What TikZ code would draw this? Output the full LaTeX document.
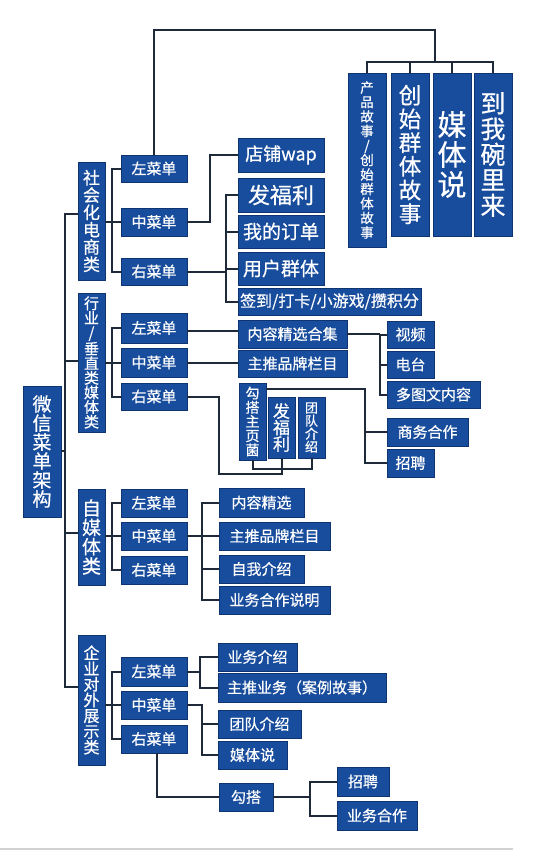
\documentclass[tikz,border=0pt]{standalone}
\usepackage{fontspec}
\setmainfont{Noto Sans CJK SC}[FakeBold=0.6]
\definecolor{boxblue}{HTML}{184C9C}
\definecolor{boxedge}{HTML}{0E3572}
\definecolor{linecol}{HTML}{1E2A3A}
\tikzset{
  bx/.style={fill=boxblue, draw=boxedge, line width=0.6pt, text=white, inner sep=0pt, align=center},
  ln/.style={draw=linecol, line width=2pt},
  fs/.style={font=\fontsize{#1}{#1}\selectfont},
  vt/.style 2 args={font=\fontsize{#1}{#2}\selectfont},
}
\newcommand\mybox[7][]{\node[bx,minimum width={(#5-#3)*1pt},minimum height={(#6-#4)*1pt},#1] (#2) at ({(#3+#5)/2},{(#4+#6)/2}) {#7};}
\begin{document}
\begin{tikzpicture}[x=1pt,y=-1pt]
\fill[white] (0,0) rectangle (550,851);
\useasboundingbox (0,0) rectangle (550,851);
% root and categories
\mybox[vt={19}{19}]{root}{23}{386}{61}{517}{微\\信\\菜\\单\\架\\构}
\mybox[vt={17}{17.3}]{c1}{78}{162}{105}{280}{社\\会\\化\\电\\商\\类}
\mybox[vt={15}{14.6}]{c2}{78}{293}{105}{432}{行\\业\\/\\垂\\直\\类\\媒\\体\\类}
\mybox[vt={19}{19.3}]{c3}{78}{489}{105}{585}{自\\媒\\体\\类}
\mybox[vt={16}{15.7}]{c4}{78}{635}{105}{765}{企\\业\\对\\外\\展\\示\\类}
% top vertical boxes
\mybox[vt={13.5}{14.5}]{t1}{348}{73}{386}{247}{产\\品\\故\\事\\/\\创\\始\\群\\体\\故\\事}
\mybox[vt={22.5}{23.7}]{t2}{391}{73}{429}{236}{创\\始\\群\\体\\故\\事}
\mybox[vt={29}{30}]{t3}{433}{73}{471}{236}{媒\\体\\说}
\mybox[vt={25}{25.5}]{t4}{474}{73}{512}{236}{到\\我\\碗\\里\\来}
% section 1
\mybox[fs=15]{s1l}{121}{155}{187}{182}{左菜单}
\mybox[fs=15]{s1m}{121}{208}{187}{236}{中菜单}
\mybox[fs=15]{s1r}{121}{258}{187}{285}{右菜单}
\mybox[fs=18]{wap}{238}{138}{324}{172}{店铺wap}
\mybox[fs=22]{fl}{238}{178}{324}{212}{发福利}
\mybox[fs=19]{wd}{238}{215}{324}{248}{我的订单}
\mybox[fs=19]{yh}{238}{252}{324}{285}{用户群体}
\mybox[fs=16]{qd}{238}{288}{421}{315}{签到/打卡/小游戏/攒积分}
% section 2
\mybox[fs=15]{s2l}{121}{313}{187}{343}{左菜单}
\mybox[fs=15]{s2m}{121}{348}{187}{377}{中菜单}
\mybox[fs=15]{s2r}{121}{383}{187}{410}{右菜单}
\mybox[fs=15]{nr}{238}{320}{347}{348}{内容精选合集}
\mybox[fs=15]{zt}{238}{350}{347}{377}{主推品牌栏目}
\mybox[fs=15]{vid}{387}{321}{434}{348}{视频}
\mybox[fs=15]{dt}{387}{351}{434}{378}{电台}
\mybox[fs=15]{dtw}{387}{381}{480}{408}{多图文内容}
\mybox[fs=15]{sw}{387}{418}{468}{446}{商务合作}
\mybox[fs=15]{zp2}{387}{449}{434}{477}{招聘}
\mybox[vt={14}{14.2}]{gd}{239}{383}{266}{460}{勾\\搭\\主\\页\\菌}
\mybox[vt={17}{16.5}]{vf}{268}{397}{295}{458}{发\\福\\利}
\mybox[vt={13}{13}]{td}{298}{397}{325}{458}{团\\队\\介\\绍}
% section 3
\mybox[fs=15]{s3l}{121}{489}{187}{517}{左菜单}
\mybox[fs=15]{s3m}{121}{522}{187}{550}{中菜单}
\mybox[fs=15]{s3r}{121}{556}{187}{584}{右菜单}
\mybox[fs=15]{nj}{219}{488}{304}{517}{内容精选}
\mybox[fs=15]{zt3}{219}{522}{330}{550}{主推品牌栏目}
\mybox[fs=15]{zw}{219}{555}{304}{583}{自我介绍}
\mybox[fs=15]{yw}{219}{586}{330}{614}{业务合作说明}
% section 4
\mybox[fs=15]{s4l}{121}{657}{187}{686}{左菜单}
\mybox[fs=15]{s4m}{121}{691}{187}{719}{中菜单}
\mybox[fs=15]{s4r}{121}{725}{187}{753}{右菜单}
\mybox[fs=15]{yj}{218}{643}{297}{671}{业务介绍}
\mybox[fs=15]{ztyw}{218}{673}{386}{702}{主推业务（案例故事）}
\mybox[fs=15]{td4}{218}{710}{301}{738}{团队介绍}
\mybox[fs=15]{mt}{218}{741}{287}{769}{媒体说}
\mybox[fs=15]{gd4}{219}{783}{273}{811}{勾搭}
\mybox[fs=15]{zp4}{337}{767}{389}{796}{招聘}
\mybox[fs=15]{yw4}{337}{801}{417}{830}{业务合作}
% spine
\coordinate (j0) at (65,451);
\coordinate (j1) at (65,214);
\coordinate (j2) at (65,361);
\coordinate (j3) at (65,533);
\coordinate (j4) at (65,687);
\draw[ln] (c1.west |- j1) -- (j1) -- (j4) -- (c4.west |- j4);
\draw[ln] (j2) -- (c2.west |- j2);
\draw[ln] (j3) -- (c3.west |- j3);
\draw[ln] (root.east |- j0) -- (j0);
% top
\coordinate (tj) at (435,62);
\coordinate (tt) at (435,30);
\draw[ln] (s1l.north) |- (tt) -- (tj);
\draw[ln] (t1.north) |- (tj) -| (t4.north);
\draw[ln] (t2.north) -- (t2.north |- tj);
\draw[ln] (t3.north) -- (t3.north |- tj);
% section 1
\draw[ln] (c1.east |- s1m.west) -- (s1m.west);
\draw[ln] (s1l.west) -- ++(-9,0) |- (s1r.west);
\coordinate (b1) at (210,0);
\draw[ln] (s1m.east) -- (s1m.east -| b1) |- (wap.west);
\coordinate (b2) at (226,0);
\draw[ln] (s1r.east) -- (s1r.east -| b2);
\draw[ln] (fl.west) -- (fl.west -| b2) |- (qd.west);
\draw[ln] (wd.west) -- (wd.west -| b2);
\draw[ln] (yh.west) -- (yh.west -| b2);
% section 2
\draw[ln] (c2.east |- s2m.west) -- (s2m.west);
\draw[ln] (s2l.west) -- ++(-9,0) |- (s2r.west);
\coordinate (h2) at (0,331);
\draw[ln] (s2l.east |- h2) -- (nr.west |- h2);
\draw[ln] (s2m.east) -- (zt.west |- s2m.east);
\coordinate (b3) at (379.5,0);
\draw[ln] (nr.east) -- (nr.east -| b3);
\draw[ln] (vid.west) -- (vid.west -| b3) |- (dtw.west);
\draw[ln] (dt.west) -- (dt.west -| b3);
\coordinate (k1) at (219,474);
\draw[ln] (s2r.east) -| (k1) -| (vf.south);
\draw[ln] (gd.south) -- ++(0,9) -| (td.south);
\coordinate (b4) at (365,0);
\draw[ln] ([yshift=-6pt]gd.north east) -| (b4 |- zp2.west) -- (zp2.west);
\draw[ln] (sw.west) -- (sw.west -| b4);
% section 3
\draw[ln] (c3.east |- s3m.west) -- (s3m.west);
\draw[ln] (s3l.west) -- ++(-9,0) |- (s3r.west);
\coordinate (b5) at (202,0);
\draw[ln] (s3m.east) -- (s3m.east -| b5);
\draw[ln] (nj.west) -- (nj.west -| b5) |- (yw.west);
\draw[ln] (zt3.west) -- (zt3.west -| b5);
\draw[ln] (zw.west) -- (zw.west -| b5);
% section 4
\draw[ln] (c4.east |- s4m.west) -- (s4m.west);
\draw[ln] (s4l.west) -- ++(-9,0) |- (s4r.west);
\coordinate (b6) at (200,0);
\draw[ln] (s4l.east) -- (s4l.east -| b6);
\draw[ln] (yj.west) -- (yj.west -| b6) |- (ztyw.west);
\coordinate (b7) at (202,0);
\draw[ln] (s4m.east) -- (s4m.east -| b7) |- (mt.west);
\draw[ln] (td4.west) -- (td4.west -| b7);
\draw[ln] ([xshift=3pt]s4r.south) |- (gd4.west);
\coordinate (b8) at (310,0);
\draw[ln] (gd4.east) -- (gd4.east -| b8);
\draw[ln] (zp4.west) -- (zp4.west -| b8) |- (yw4.west);
% bottom grey rule
\draw[gray!35, line width=1.5pt] (0,849) -- (513,849);
\end{tikzpicture}
\end{document}
